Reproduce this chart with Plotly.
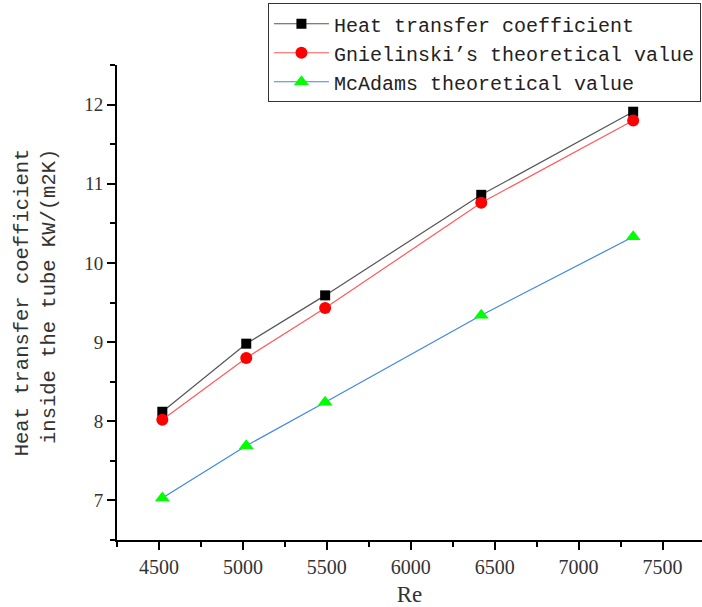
import plotly.graph_objects as go

re_values = [4520, 5020, 5490, 6420, 7325]
htc_measured = [8.12, 8.98, 9.59, 10.86, 11.91]
htc_gnielinski = [8.02, 8.80, 9.43, 10.76, 11.80]
htc_mcadams = [7.03, 7.69, 8.24, 9.34, 10.33]

series_names = [
    "Heat transfer coefficient",
    "Gnielinski’s theoretical value",
    "McAdams theoretical value",
]

mono = "Liberation Mono, Courier New, monospace"
serif = "Liberation Serif, Times New Roman, Times, serif"

fig = go.Figure()
fig.add_trace(go.Scatter(
    x=re_values, y=htc_measured, name=series_names[0], mode="lines+markers",
    line=dict(color="#555555", width=1.2),
    marker=dict(symbol="square", size=10, color="#000000"),
))
fig.add_trace(go.Scatter(
    x=re_values, y=htc_gnielinski, name=series_names[1], mode="lines+markers",
    line=dict(color="#ff5a5a", width=1.2),
    marker=dict(symbol="circle", size=12, color="#ff0000"),
))
fig.add_trace(go.Scatter(
    x=re_values, y=htc_mcadams, name=series_names[2], mode="lines+markers",
    line=dict(color="#3f86e6", width=1.2),
    marker=dict(symbol="triangle-up", size=13, color="#00ff00"),
))

fig.update_layout(
    width=702, height=607,
    margin=dict(l=117, r=0, t=65, b=67, autoexpand=False),
    paper_bgcolor="white", plot_bgcolor="white",
    font=dict(family=serif, color="#333333"),
    showlegend=True,
    legend=dict(
        x=0.258, y=1.13, xanchor="left", yanchor="top",
        bgcolor="white", bordercolor="#333333", borderwidth=1,
        font=dict(family=mono, size=20, color="#222222"),
        itemwidth=55, tracegroupgap=0,
    ),
    xaxis=dict(
        range=[4250, 7735], tickvals=[4500, 5000, 5500, 6000, 6500, 7000, 7500],
        showgrid=False, zeroline=False, showline=True, linecolor="#000000", linewidth=2,
        ticks="outside", ticklen=8, tickwidth=2, tickcolor="#000000",
        tickfont=dict(family=serif, size=20, color="#333333"),
        minor=dict(dtick=250, tick0=4250, ticks="outside", ticklen=5, tickwidth=1.5, tickcolor="#000000"),
        title=dict(text="Re", font=dict(family=serif, size=23, color="#333333"), standoff=12),
    ),
    yaxis=dict(
        range=[6.5, 12.5], tickvals=[7, 8, 9, 10, 11, 12],
        showgrid=False, zeroline=False, showline=True, linecolor="#000000", linewidth=2,
        ticks="outside", ticklen=8, tickwidth=2, tickcolor="#000000",
        tickfont=dict(family=serif, size=19, color="#333333"),
        minor=dict(dtick=0.5, tick0=6.5, ticks="outside", ticklen=5, tickwidth=1.5, tickcolor="#000000"),
        title=dict(
            text="\u00a0Heat transfer coefficient<br>\u00a0inside the tube KW/(m2K)",
            font=dict(family=mono, size=20.5, color="#333333"), standoff=23,
        ),
    ),
)

fig.write_html(
    "out.html",
    config={"displayModeBar": False},
    post_script="document.body.style.margin='0';",
)
